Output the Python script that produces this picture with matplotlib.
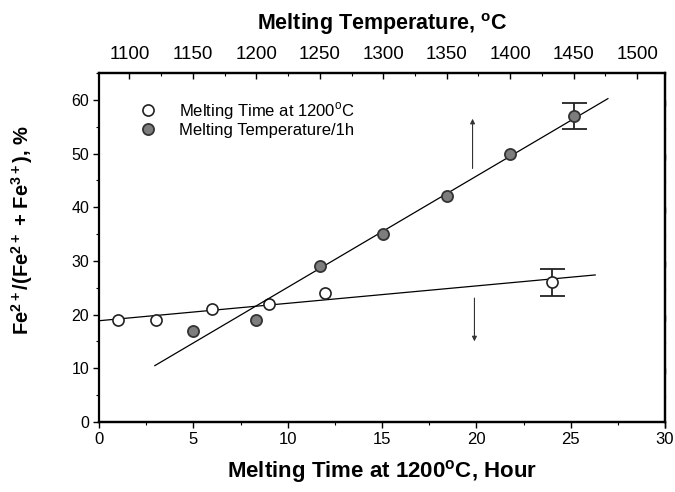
import matplotlib.pyplot as plt
import numpy as np
from matplotlib.ticker import MultipleLocator

plt.rcParams['font.family'] = 'Liberation Sans'
plt.rcParams['mathtext.fontset'] = 'custom'
plt.rcParams['mathtext.rm'] = 'Liberation Sans'
plt.rcParams['mathtext.bf'] = 'Liberation Sans:bold'

# melting time series (1200 C)
time_h = [1, 3, 6, 9, 12, 24]
fe2_time = [19, 19, 21, 22, 24, 26]
time_err = [0, 0, 0, 0, 0, 2.5]

# melting temperature series (1 h)
temp_c = [1150, 1200, 1250, 1300, 1350, 1400, 1450]
fe2_temp = [17, 19, 29, 35, 42, 50, 57]
temp_err = [0, 0, 0, 0, 0, 0, 2.5]

fig = plt.figure(figsize=(6.75, 4.92), dpi=100)
ax = fig.add_axes([99 / 675, 1 - 422 / 492, 566 / 675, 349 / 492])
ax2 = ax.twiny()

# linear fits
k1, b1 = np.polyfit(time_h, fe2_time, 1)
xf = np.array([0, 26.3])
ax.plot(xf, k1 * xf + b1, color='k', lw=0.9, zorder=2)

k2, b2 = np.polyfit(temp_c, fe2_temp, 1)
tf = np.array([1120, 1477])
ax2.plot(tf, k2 * tf + b2, color='k', lw=0.9, zorder=2)

# data points
ax.plot(time_h, fe2_time, 'o', ms=8, mfc='white', mec='#222222', mew=1.2,
        zorder=3, label='Melting Time at 1200$^\\mathrm{o}$C')
ax.errorbar(time_h[-1], fe2_time[-1], yerr=time_err[-1], fmt='none',
            ecolor='#222222', elinewidth=1.3, capsize=9, capthick=1.3, zorder=2)

ax2.plot(temp_c, fe2_temp, 'o', ms=8, mfc='#7d7d7d', mec='#333333', mew=1.3,
         zorder=3)
ax2.errorbar(temp_c[-1], fe2_temp[-1], yerr=temp_err[-1], fmt='none',
             ecolor='#222222', elinewidth=1.3, capsize=9, capthick=1.3, zorder=2)
ax.plot([], [], 'o', ms=8, mfc='#7d7d7d', mec='#333333', mew=1.3,
        label='Melting Temperature/1h')

# arrows pointing to the relevant axis
ax.annotate('', xy=(19.8, 57), xytext=(19.8, 46.7),
            arrowprops=dict(arrowstyle='-|>', lw=0.8, color='#333333',
                            mutation_scale=7))
ax.annotate('', xy=(19.9, 14.5), xytext=(19.9, 23.6),
            arrowprops=dict(arrowstyle='-|>', lw=0.8, color='#333333',
                            mutation_scale=7))

# axes ranges and ticks
ax.set_xlim(0, 30)
ax.set_ylim(0, 65)
ax2.set_xlim(1076, 1522)
ax.xaxis.set_major_locator(MultipleLocator(5))
ax.xaxis.set_minor_locator(MultipleLocator(2.5))
ax.yaxis.set_major_locator(MultipleLocator(10))
ax.yaxis.set_minor_locator(MultipleLocator(5))
ax2.xaxis.set_major_locator(MultipleLocator(50))
ax2.xaxis.set_minor_locator(MultipleLocator(25))

ax.tick_params(axis='x', which='both', direction='out', labelsize=12, pad=3)
ax.tick_params(axis='y', which='both', direction='out', labelsize=11.5,
               left=True, right=True, pad=3)
ax.tick_params(which='major', length=4, width=1)
ax.tick_params(which='minor', length=2, width=0.8)
ax2.tick_params(axis='x', which='both', direction='in', labelsize=13.5, pad=7)
ax2.tick_params(which='major', length=4, width=1)
ax2.tick_params(which='minor', length=2, width=0.8)

# right-side ticks pointing inward
for t in ax.yaxis.get_major_ticks() + ax.yaxis.get_minor_ticks():
    t.tick2line.set_marker(3)

for a in (ax, ax2):
    for s in a.spines.values():
        s.set_linewidth(1.6)
ax.spines['left'].set_linewidth(1.2)

ax.set_xlabel('Melting Time at 1200$^\\mathbf{o}$C, Hour', fontsize=16,
              fontweight='bold', labelpad=8)
ax2.set_xlabel('Melting Temperature, $^\\mathbf{o}$C', fontsize=15.5,
               fontweight='bold', labelpad=12)
ax.set_ylabel('Fe$^{\\mathbf{2+}}$/(Fe$^{\\mathbf{2+}}$ + Fe$^{\\mathbf{3+}}$), %',
              fontsize=14.5, fontweight='bold')
ax.yaxis.set_label_coords(-0.113, 0.55)

ax.legend(loc='upper left', bbox_to_anchor=(0.03, 0.965), frameon=False,
          fontsize=12, handletextpad=0.9, labelspacing=0.05)

fig.savefig('out.png', dpi=100)
